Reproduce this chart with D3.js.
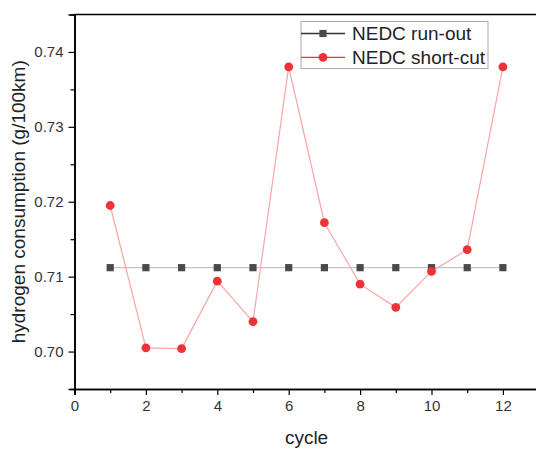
<!DOCTYPE html>
<html><head><meta charset="utf-8">
<script src="https://cdn.jsdelivr.net/npm/d3@7"></script>
<style>body{margin:0;background:#fff}svg{display:block}text{font-family:"Liberation Sans",Arial,sans-serif}</style>
</head><body><svg id="c" width="536" height="449"></svg>
<script>
const cycles = [1,2,3,4,5,6,7,8,9,10,11,12];
const runOut = [0.7112,0.7112,0.7112,0.7112,0.7112,0.7112,0.7112,0.7112,0.7112,0.7112,0.7112,0.7112];
const shortCut = [0.7195,0.7005,0.7004,0.7094,0.7040,0.7380,0.7172,0.7090,0.7059,0.7107,0.7136,0.7380];
const xTicks = [0,2,4,6,8,10,12];
const yTicks = [0.70,0.71,0.72,0.73,0.74];
const seriesNames = ["NEDC run-out","NEDC short-cut"];

const svg = d3.select("#c");
const L=74.5, T=14.5, B=389, R=538.6;
const x = d3.scaleLinear().domain([0,13]).range([L,R]);
const y = d3.scaleLinear().domain([0.695,0.745]).range([B,T]);

// frame top line
svg.append("line").attr("x1",L).attr("x2",536).attr("y1",T).attr("y2",T).attr("stroke","#000").attr("stroke-width",1.6);

// x axis
const gx = svg.append("g").attr("transform",`translate(0,${B})`);
gx.call(d3.axisBottom(x).tickValues(d3.range(1,13,2)).tickSize(4).tickFormat(""));
gx.call(g=>{});
const gx2 = svg.append("g").attr("transform",`translate(0,${B})`)
  .call(d3.axisBottom(x).tickValues(xTicks).tickSize(6).tickPadding(5).tickFormat(d3.format("d")));
[gx,gx2].forEach(g=>{g.select(".domain").attr("stroke","#000").attr("stroke-width",1.6);
  g.selectAll(".tick line").attr("stroke","#000").attr("stroke-width",1.2);});
gx2.selectAll("text").attr("font-size",15).attr("fill","#333");

// y axis
const gy = svg.append("g").attr("transform",`translate(${L},0)`)
  .call(d3.axisLeft(y).tickValues([0.695,0.705,0.715,0.725,0.735,0.745].slice(1,5)).tickSize(4).tickFormat(""));
const gy2 = svg.append("g").attr("transform",`translate(${L},0)`)
  .call(d3.axisLeft(y).tickValues(yTicks).tickSize(6).tickPadding(5).tickFormat(d3.format(".2f")));
[gy,gy2].forEach(g=>{g.select(".domain").attr("stroke","#000").attr("stroke-width",1.6);
  g.selectAll(".tick line").attr("stroke","#000").attr("stroke-width",1.2);});
gy2.selectAll("text").attr("font-size",15).attr("fill","#333");

// titles
svg.append("text").attr("x",(L+R)/2).attr("y",444).attr("text-anchor","middle").attr("font-size",19).attr("fill","#222").text("cycle");
svg.append("text").attr("transform",`translate(25,${(T+B)/2}) rotate(-90)`).attr("text-anchor","middle").attr("font-size",19).attr("fill","#222").text("hydrogen consumption (g/100km)");

const line = d3.line().x((d,i)=>x(cycles[i])).y(d=>y(d));
svg.append("path").datum(runOut).attr("d",line).attr("fill","none").attr("stroke","#c4c4c4").attr("stroke-width",1.2);
svg.append("path").datum(shortCut).attr("d",line).attr("fill","none").attr("stroke","#f9a5a5").attr("stroke-width",1.2);

svg.append("g").selectAll("rect").data(runOut).join("rect")
  .attr("x",(d,i)=>x(cycles[i])-3.6).attr("y",d=>y(d)-3.6).attr("width",7.2).attr("height",7.2).attr("fill","#4a4a4a");
svg.append("g").selectAll("circle").data(shortCut).join("circle")
  .attr("cx",(d,i)=>x(cycles[i])).attr("cy",d=>y(d)).attr("r",4.4).attr("fill","#ee3338");

// legend
const lg = svg.append("g");
lg.append("rect").attr("x",301).attr("y",21.5).attr("width",187).attr("height",47).attr("fill","#fff").attr("stroke","#aaa").attr("stroke-width",1);
const rows=[{y:33.5,lc:"#333",mc:"#4a4a4a",sq:true},{y:57.3,lc:"#ee3338",mc:"#ee3338",sq:false}];
rows.forEach((r,i)=>{
  lg.append("line").attr("x1",301).attr("x2",345).attr("y1",r.y).attr("y2",r.y).attr("stroke",r.lc).attr("stroke-width",1.3);
  if(r.sq) lg.append("rect").attr("x",323-3.6).attr("y",r.y-3.6).attr("width",7.2).attr("height",7.2).attr("fill",r.mc);
  else lg.append("circle").attr("cx",323).attr("cy",r.y).attr("r",4.4).attr("fill",r.mc);
  lg.append("text").attr("x",352).attr("y",r.y+6.8).attr("font-size",19).attr("fill","#222").text(seriesNames[i]);
});
</script></body></html>
